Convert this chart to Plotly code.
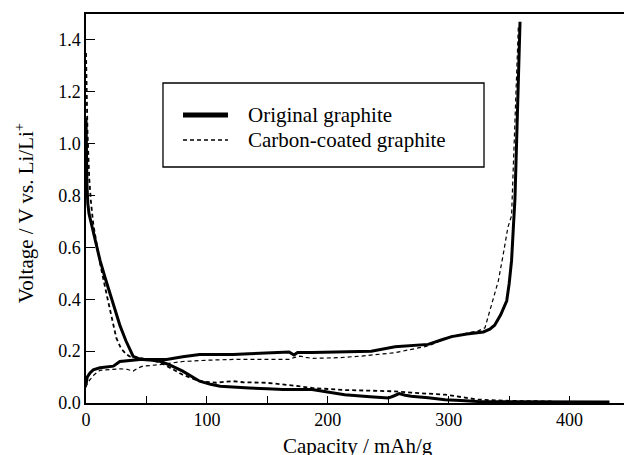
import plotly.graph_objects as go

# Original graphite - discharge (lithiation)
orig_dis_cap = [0, 0.3, 0.8, 1.5, 2.5, 4, 6, 8, 11.6, 16, 19.8, 24, 28, 33, 39, 43, 47, 55, 62,
                70, 80, 94, 103, 111, 120, 135, 150, 163, 187, 200, 214, 235, 250, 255, 259,
                264, 269, 283, 297, 310, 324, 350, 380, 410, 433]
orig_dis_v = [1.10, 0.95, 0.84, 0.77, 0.73, 0.70, 0.66, 0.61, 0.55, 0.48, 0.42, 0.36, 0.30, 0.24,
              0.18, 0.172, 0.168, 0.165, 0.16, 0.145, 0.123, 0.084, 0.072, 0.065, 0.062, 0.058,
              0.055, 0.052, 0.052, 0.042, 0.032, 0.024, 0.019, 0.028, 0.036, 0.030, 0.026,
              0.020, 0.013, 0.010, 0.006, 0.005, 0.004, 0.004, 0.004]

# Original graphite - charge (delithiation)
orig_chg_cap = [0, 1, 3.3, 6, 11.6, 20, 22.6, 28, 35, 44.6, 55, 66.7, 80, 94, 110, 121.7, 135,
                149, 168, 172, 175, 187, 210, 236, 255.6, 270, 283, 295, 302.5, 315, 328.7,
                334, 338, 343, 348, 350, 352, 353.5, 354.8, 355.6, 357.3, 358.3, 359]
orig_chg_v = [0.07, 0.10, 0.116, 0.128, 0.136, 0.14, 0.142, 0.16, 0.163, 0.168, 0.168, 0.168,
              0.178, 0.187, 0.187, 0.187, 0.19, 0.194, 0.197, 0.185, 0.195, 0.195, 0.198, 0.20,
              0.217, 0.222, 0.226, 0.245, 0.256, 0.266, 0.274, 0.285, 0.30, 0.34, 0.394, 0.46,
              0.549, 0.678, 0.787, 0.916, 1.174, 1.33, 1.47]

# Carbon-coated graphite - discharge
coat_dis_cap = [0, 0.5, 1.2, 2, 2.7, 4, 6, 8.8, 12, 17, 21, 25, 29, 33.6, 36, 45, 55, 62, 70,
                80, 94, 108, 115, 121.7, 130, 149, 170, 187, 214, 235, 255.6, 269, 297, 306,
                324.5, 352, 370, 385]
coat_dis_v = [1.35, 1.20, 1.05, 0.95, 0.864, 0.78, 0.69, 0.614, 0.53, 0.42, 0.33, 0.252, 0.21,
              0.187, 0.18, 0.172, 0.165, 0.155, 0.135, 0.109, 0.084, 0.078, 0.082, 0.084, 0.080,
              0.078, 0.068, 0.058, 0.050, 0.047, 0.045, 0.040, 0.032, 0.026, 0.013, 0.008,
              0.008, 0.006]

# Carbon-coated graphite - charge
coat_chg_cap = [0, 1, 3.3, 7, 11.6, 20, 28, 34, 39, 43, 47, 61, 80, 100, 121.7, 145, 168, 172,
                177, 182, 187, 210, 228, 255.6, 283, 302.5, 315, 324.5, 330, 335, 341, 345, 349,
                352, 354, 356, 357.6]
coat_chg_v = [0.06, 0.075, 0.09, 0.11, 0.126, 0.13, 0.132, 0.13, 0.123, 0.135, 0.142, 0.148,
              0.16, 0.165, 0.168, 0.168, 0.168, 0.175, 0.181, 0.176, 0.172, 0.175, 0.181, 0.194,
              0.22, 0.258, 0.27, 0.278, 0.29, 0.37, 0.47, 0.57, 0.678, 0.722, 1.00, 1.30, 1.45]

x_ticks = [0, 100, 200, 300, 400]
y_ticks = [0.0, 0.2, 0.4, 0.6, 0.8, 1.0, 1.2, 1.4]
legend_labels = ["Original graphite", "Carbon-coated graphite"]

FONT = "Liberation Serif, Times New Roman, serif"
DASH = "4px,3px"

fig = go.Figure()
fig.add_trace(go.Scatter(x=coat_dis_cap, y=coat_dis_v, mode="lines",
                         line=dict(color="black", width=1.8, dash=DASH), showlegend=False))
fig.add_trace(go.Scatter(x=coat_chg_cap, y=coat_chg_v, mode="lines",
                         line=dict(color="black", width=1.2, dash=DASH), showlegend=False))
fig.add_trace(go.Scatter(x=orig_dis_cap, y=orig_dis_v, mode="lines",
                         line=dict(color="black", width=3), showlegend=False))
fig.add_trace(go.Scatter(x=orig_chg_cap, y=orig_chg_v, mode="lines",
                         line=dict(color="black", width=3), showlegend=False))

# Boxed legend
shapes = [
    dict(type="rect", xref="paper", yref="paper", x0=0.1431, x1=0.7398, y0=0.6067, y1=0.8226,
         line=dict(color="black", width=1.3), fillcolor="white", layer="above"),
    dict(type="line", xref="paper", yref="paper", x0=0.1803, x1=0.2639, y0=0.7404, y1=0.7404,
         line=dict(color="black", width=5)),
    dict(type="line", xref="paper", yref="paper", x0=0.1803, x1=0.2639, y0=0.6761, y1=0.6761,
         line=dict(color="black", width=1.5, dash=DASH)),
]
annotations = [
    dict(text=legend_labels[0], xref="paper", yref="paper", x=0.2975, y=0.7404,
         xanchor="left", yanchor="middle", showarrow=False, font=dict(size=21)),
    dict(text=legend_labels[1], xref="paper", yref="paper", x=0.2975, y=0.6761,
         xanchor="left", yanchor="middle", showarrow=False, font=dict(size=21)),
    dict(text="Capacity / mAh/g", xref="paper", yref="paper", x=0.505, y=-0.110,
         xanchor="center", yanchor="middle", showarrow=False, font=dict(size=21)),
    dict(text="Voltage / V vs. Li/Li<sup>+</sup>", xref="paper", yref="paper", x=-0.114,
         y=0.487, xanchor="center", yanchor="middle", textangle=-90, showarrow=False,
         font=dict(size=21)),
]

fig.update_layout(
    width=624, height=455,
    margin=dict(l=86, r=0, t=14, b=52),
    paper_bgcolor="white", plot_bgcolor="white",
    font=dict(family=FONT, color="black", size=18),
    shapes=shapes, annotations=annotations,
    showlegend=False,
)
fig.update_xaxes(
    range=[0, 445], showgrid=False, zeroline=False,
    showline=True, linecolor="black", linewidth=1.5, mirror=True,
    tickvals=x_ticks, ticktext=[str(v) for v in x_ticks],
    ticks="inside", ticklen=7, tickwidth=1.3, tickcolor="black",
    minor=dict(dtick=50, tick0=0, ticks="inside", ticklen=7, tickwidth=1.3, tickcolor="black"),
    tickfont=dict(size=18),
)
fig.update_yaxes(
    range=[0, 1.5], showgrid=False, zeroline=False,
    showline=True, linecolor="black", linewidth=1.5,
    tickvals=y_ticks, ticktext=[f"{v:.1f}" for v in y_ticks],
    ticks="inside", ticklen=9, tickwidth=1.3, tickcolor="black",
    tickfont=dict(size=18),
)

fig.write_html("out.html")
